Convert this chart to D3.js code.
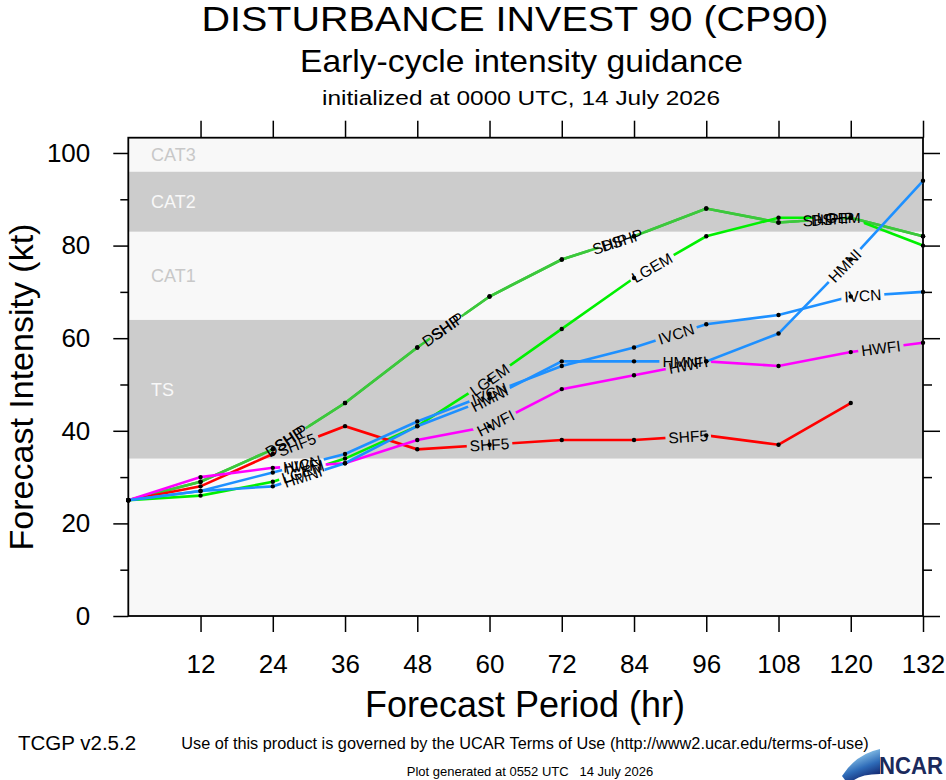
<!DOCTYPE html>
<html>
<head>
<meta charset="utf-8">
<script src="https://cdn.jsdelivr.net/npm/d3@7"></script>
<style>
  body { margin: 0; background: white; }
  text { font-family: "Liberation Sans", Arial, Helvetica, sans-serif; }
  .narrow { font-family: "Liberation Sans Narrow", "Liberation Sans", Arial, sans-serif; }
</style>
</head>
<body>
<svg id="chart" width="946" height="780"></svg>
<script>
// Datos del grafico
const hours = [0, 12, 24, 36, 48, 60, 72, 84, 96, 108, 120, 132]
const shipValues = [25, 29, 36, 46, 58, 69, 77, 82, 88, 85, 86, 82]
const dshpValues = [25, 29, 36, 46, 58, 69, 77, 82, 88, 85, 86, 82]
const lgemValues = [25, 26, 29, 34, 41, 51, 62, 73, 82, 86, 86, 80]
const shf5Values = [25, 28, 35, 41, 36, 37, 38, 38, 39, 37, 46, null]
const hwfiValues = [25, 30, 32, 33, 38, 41, 49, 52, 55, 54, 57, 59]
const ivcnValues = [25, 27, 31, 35, 42, 48, 54, 58, 63, 65, 69, 70]
const hmniValues = [25, 27, 28, 33, 41, 47, 55, 55, 55, 61, 77, 94]

const modelNames = ['SHIP', 'DSHP', 'LGEM', 'SHF5', 'HWFI', 'IVCN', 'HMNI']
const modelValues = [shipValues, dshpValues, lgemValues, shf5Values, hwfiValues, ivcnValues, hmniValues]
// horas donde va la etiqueta de cada modelo
const labelHours = [
    [27, 53, 80, 115],
    [26, 52, 82, 117],
    [29, 60, 87, 118],
    [28, 60, 93],
    [29, 61, 93, 125],
    [29, 60, 91, 122],
    [29, 60, 92, 119]
]

const xTicks = [12, 24, 36, 48, 60, 72, 84, 96, 108, 120, 132]
const yTicks = [0, 20, 40, 60, 80, 100]
const yMinorTicks = [10, 30, 50, 70, 90]

const bandNames = ['', 'TS', 'CAT1', 'CAT2', 'CAT3']
const bandLows = [0, 34, 64, 83, 96]

const colors = ['#33c833', '#3cc83c', '#00f000', '#ff0000', '#ff00ff', '#1e90ff', '#1e90ff']

const svg = d3.select('#chart')
const width = +svg.attr('width')
const height = +svg.attr('height')

const plot = { left: 128.3, right: 923, top: 137.7, bottom: 616 }
const yMax = 103.3

const xScale = d3.scaleLinear().domain([0, 132]).range([plot.left, plot.right])
const yScale = d3.scaleLinear().domain([0, yMax]).range([plot.bottom, plot.top])

svg.append('rect').attr('width', width).attr('height', height).attr('fill', 'white')

// Bandas de categoria
const bandTops = bandLows.slice(1).concat([yMax])
const bandG = svg.append('g')
bandLows.forEach((lo, i) => {
    const hi = bandTops[i]
    const dark = i % 2 === 1
    bandG.append('rect')
        .attr('x', plot.left)
        .attr('width', plot.right - plot.left)
        .attr('y', yScale(hi))
        .attr('height', yScale(lo) - yScale(hi))
        .attr('fill', dark ? '#cccccc' : '#f8f8f8')
    if (bandNames[i]) {
        bandG.append('text')
            .attr('x', 151)
            .attr('y', yScale((lo + hi) / 2))
            .attr('dy', '0.36em')
            .attr('font-size', 18)
            .attr('fill', dark ? '#f8f8f8' : '#c8c8c8')
            .text(bandNames[i])
    }
})

// Ejes
const gy = svg.append('g').attr('transform', `translate(${plot.left},0)`)
    .call(d3.axisLeft(yScale).tickValues(yTicks).tickSize(15).tickSizeOuter(0))
gy.selectAll('text').attr('font-size', 26).attr('x', -38).attr('fill', 'black')
    .style('font-family', '"Liberation Sans", Arial, sans-serif')

svg.append('g').attr('transform', `translate(${plot.left},0)`)
    .call(d3.axisLeft(yScale).tickValues(yMinorTicks).tickSize(8).tickFormat(''))
svg.append('g').attr('transform', `translate(${plot.right},0)`)
    .call(d3.axisRight(yScale).tickValues(yTicks).tickSize(17).tickFormat(''))
svg.append('g').attr('transform', `translate(${plot.right},0)`)
    .call(d3.axisRight(yScale).tickValues(yMinorTicks).tickSize(9).tickFormat(''))

const gx = svg.append('g').attr('transform', `translate(0,${plot.bottom})`)
    .call(d3.axisBottom(xScale).tickValues(xTicks).tickSize(16).tickPadding(23))
gx.selectAll('text').attr('font-size', 26).attr('fill', 'black')
    .style('font-family', '"Liberation Sans", Arial, sans-serif')
svg.append('g').attr('transform', `translate(0,${plot.top})`)
    .call(d3.axisTop(xScale).tickValues(xTicks).tickSize(17).tickFormat(''))

svg.selectAll('.domain').remove()
svg.selectAll('.tick line').attr('stroke', 'black').attr('stroke-width', 1.5)

svg.append('rect')
    .attr('x', plot.left).attr('y', plot.top)
    .attr('width', plot.right - plot.left).attr('height', plot.bottom - plot.top)
    .attr('fill', 'none').attr('stroke', 'black').attr('stroke-width', 1.8)

// Mascaras para cortar las lineas donde van las etiquetas
const defs = svg.append('defs')
const linesG = svg.append('g')
const dotsG = svg.append('g')
const labelsG = svg.append('g')

const pointAt = (values, h) => {
    let i = Math.min(Math.floor(h / 12), hours.length - 2)
    while (values[i + 1] == null) i--
    const x0 = xScale(hours[i]), x1 = xScale(hours[i + 1])
    const y0 = yScale(values[i]), y1 = yScale(values[i + 1])
    const t = (h - hours[i]) / (hours[i + 1] - hours[i])
    return {
        x: x0 + (x1 - x0) * t,
        y: y0 + (y1 - y0) * t,
        angle: Math.atan2(y1 - y0, x1 - x0) * 180 / Math.PI
    }
}

const line = d3.line()
    .defined(d => d.v != null)
    .x(d => xScale(d.h))
    .y(d => yScale(d.v))

modelNames.forEach((name, i) => {
    const values = modelValues[i]
    const data = hours.map((h, j) => ({ h: h, v: values[j] }))

    const mask = defs.append('mask')
        .attr('id', 'mask-' + i)
        .attr('maskUnits', 'userSpaceOnUse')
        .attr('x', 0).attr('y', 0).attr('width', width).attr('height', height)
    mask.append('rect').attr('width', width).attr('height', height).attr('fill', 'white')

    labelHours[i].forEach(h => {
        const p = pointAt(values, h)
        const t = labelsG.append('text')
            .attr('class', 'narrow')
            .attr('transform', `translate(${p.x},${p.y}) rotate(${p.angle})`)
            .attr('text-anchor', 'middle')
            .attr('dy', '0.36em')
            .attr('font-size', 15.5)
            .attr('fill', 'black')
            .text(name)
        const w = t.node().getComputedTextLength() + 6
        mask.append('rect')
            .attr('transform', `translate(${p.x},${p.y}) rotate(${p.angle})`)
            .attr('x', -w / 2).attr('y', -8)
            .attr('width', w).attr('height', 16)
            .attr('fill', 'black')
    })

    linesG.append('path')
        .datum(data)
        .attr('d', line)
        .attr('fill', 'none')
        .attr('stroke', colors[i])
        .attr('stroke-width', 2.6)
        .attr('mask', `url(#mask-${i})`)

    dotsG.selectAll(null)
        .data(data.filter(d => d.v != null))
        .enter().append('circle')
            .attr('cx', d => xScale(d.h))
            .attr('cy', d => yScale(d.v))
            .attr('r', 2.2)
            .attr('fill', 'black')
})

// Titulos
svg.append('text').attr('x', 515).attr('y', 31).attr('text-anchor', 'middle')
    .attr('font-size', 34.5).attr('textLength', 627).attr('lengthAdjust', 'spacingAndGlyphs')
    .text('DISTURBANCE INVEST 90 (CP90)')
svg.append('text').attr('x', 521.5).attr('y', 72).attr('text-anchor', 'middle')
    .attr('font-size', 32).attr('textLength', 443).attr('lengthAdjust', 'spacingAndGlyphs')
    .text('Early-cycle intensity guidance')
svg.append('text').attr('x', 521).attr('y', 105).attr('text-anchor', 'middle')
    .attr('font-size', 21).attr('textLength', 398).attr('lengthAdjust', 'spacingAndGlyphs')
    .text('initialized at 0000 UTC, 14 July 2026')

svg.append('text').attr('x', 525).attr('y', 717).attr('text-anchor', 'middle')
    .attr('font-size', 36).text('Forecast Period (hr)')
svg.append('text')
    .attr('transform', `translate(33,387) rotate(-90)`)
    .attr('text-anchor', 'middle')
    .attr('font-size', 34).text('Forecast Intensity (kt)')

// Pie de pagina
svg.append('text').attr('class', 'narrow').attr('x', 18).attr('y', 750)
    .attr('font-size', 20.5).text('TCGP v2.5.2')
svg.append('text').attr('class', 'narrow').attr('x', 525).attr('y', 749).attr('text-anchor', 'middle')
    .attr('font-size', 16.3).text('Use of this product is governed by the UCAR Terms of Use (http://www2.ucar.edu/terms-of-use)')
svg.append('text').attr('class', 'narrow').attr('x', 530).attr('y', 776).attr('text-anchor', 'middle')
    .attr('font-size', 13).attr('xml:space', 'preserve').text('Plot generated at 0552 UTC   14 July 2026')

// Logo NCAR
const grad = defs.append('linearGradient').attr('id', 'swoosh')
    .attr('x1', 0).attr('y1', 0).attr('x2', 0.5).attr('y2', 1)
grad.append('stop').attr('offset', 0).attr('stop-color', '#f2f8fc')
grad.append('stop').attr('offset', 0.35).attr('stop-color', '#7fb9e3')
grad.append('stop').attr('offset', 0.7).attr('stop-color', '#2e6bb8')
grad.append('stop').attr('offset', 1).attr('stop-color', '#16307a')
svg.append('path')
    .attr('d', 'M842,776 Q856,754 880,749 L880,774 Q862,774 854,780 L845,780 Z')
    .attr('fill', 'url(#swoosh)')
svg.append('text').attr('x', 943).attr('y', 774).attr('text-anchor', 'end')
    .attr('font-size', 23).attr('font-weight', 'bold').attr('fill', '#1b2a5c')
    .attr('textLength', 64).attr('lengthAdjust', 'spacingAndGlyphs').text('NCAR')
</script>
</body>
</html>
